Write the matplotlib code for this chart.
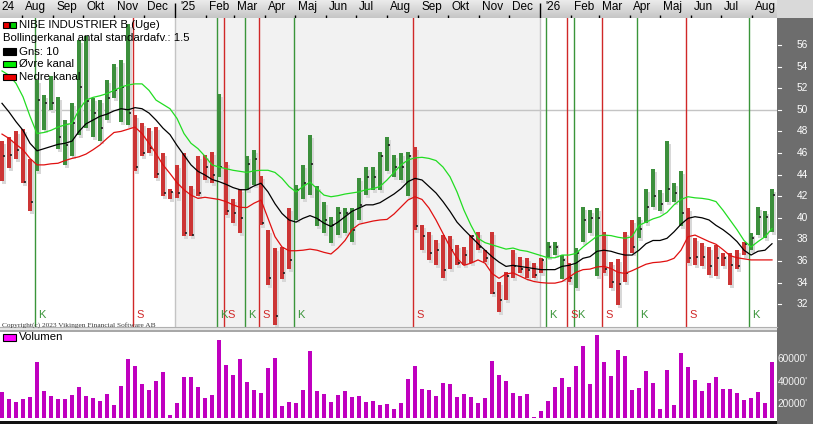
import numpy as np
import pandas as pd
import matplotlib
matplotlib.use("Agg")
import matplotlib.pyplot as plt
from matplotlib.patches import Rectangle
from matplotlib.colors import LinearSegmentedColormap
from matplotlib.transforms import blended_transform_factory as btf

# ---------------- data ----------------
first_date = "2024-07-12"   # weekly bars (Uge)
high = [47.1, 47.5, 48.0, 48.2, 45.4, 52.8, 51.4, 53.1, 51.2, 49.1,
        50.6, 56.5, 56.8, 51.1, 50.9, 52.8, 54.2, 54.6, 57.9, 49.5,
        48.8, 48.3, 48.4, 46.0, 42.7, 44.9, 46.0, 42.9, 45.7, 45.8,
        46.1, 51.5, 45.2, 41.7, 42.7, 45.7, 46.3, 43.9, 38.9, 37.2,
        37.3, 40.9, 43.0, 44.9, 47.7, 42.9, 41.5, 40.1, 41.0, 40.9,
        40.9, 43.7, 44.7, 44.7, 46.1, 47.5, 45.8, 46.0, 46.1, 46.6,
        39.3, 38.7, 37.9, 38.4, 38.3, 37.5, 37.3, 38.4, 38.7, 37.0,
        38.7, 34.1, 35.0, 37.0, 36.4, 36.3, 35.8, 36.3, 37.8, 37.8,
        36.6, 35.8, 37.2, 41.0, 40.7, 40.9, 38.7, 35.9, 36.2, 38.7,
        39.8, 40.1, 42.7, 44.5, 42.6, 47.1, 43.2, 44.3, 40.9, 38.1,
        37.7, 37.3, 37.5, 36.7, 36.7, 37.0, 37.8, 38.6, 41.0, 40.6,
        42.7]
low = [43.4, 44.6, 45.4, 43.2, 40.6, 44.3, 48.1, 50.0, 46.4, 44.9,
       45.7, 47.7, 48.3, 47.5, 47.1, 49.1, 51.1, 48.9, 48.6, 44.3,
       45.7, 46.0, 43.7, 42.0, 41.7, 41.8, 38.3, 38.3, 42.0, 43.5,
       43.2, 43.8, 40.3, 39.5, 38.6, 42.6, 43.0, 39.3, 33.8, 30.1,
       34.3, 35.3, 39.8, 41.7, 42.1, 39.2, 38.6, 37.7, 38.4, 38.6,
       37.8, 39.8, 42.1, 42.6, 42.6, 44.3, 43.8, 43.5, 42.0, 38.9,
       37.0, 36.1, 35.6, 34.4, 35.3, 35.6, 35.6, 35.8, 37.0, 35.9,
       32.9, 31.3, 32.4, 34.4, 34.9, 34.4, 34.4, 34.9, 36.4, 36.6,
       34.3, 34.1, 33.5, 37.8, 38.6, 34.6, 34.9, 33.5, 31.9, 34.1,
       36.7, 38.1, 39.5, 41.0, 40.6, 41.5, 41.5, 39.2, 35.8, 35.6,
       35.5, 34.7, 34.6, 35.5, 33.8, 35.3, 36.6, 37.0, 38.4, 38.1,
       38.7]
close = [45.7, 45.8, 46.3, 43.3, 41.5, 50.9, 50.6, 50.6, 47.5, 46.7,
         48.8, 52.1, 50.8, 49.7, 48.3, 51.1, 51.8, 52.1, 49.7, 44.7,
         46.0, 46.5, 44.1, 42.3, 42.4, 42.3, 38.6, 38.4, 42.3, 44.7,
         44.0, 44.7, 40.6, 40.4, 40.0, 45.0, 45.4, 39.5, 34.4, 30.9,
         34.9, 36.1, 42.6, 43.2, 45.0, 39.8, 39.8, 39.3, 40.4, 40.4,
         38.9, 41.2, 43.8, 43.8, 45.7, 46.7, 44.7, 44.7, 45.7, 39.2,
         38.3, 36.7, 37.0, 35.2, 37.0, 35.8, 36.6, 38.3, 37.3, 36.3,
         33.0, 32.4, 34.6, 35.5, 35.3, 35.2, 34.7, 36.1, 37.3, 37.3,
         36.1, 34.4, 36.7, 39.8, 40.0, 40.0, 35.3, 34.1, 33.9, 34.9,
         37.3, 39.0, 41.0, 42.0, 41.3, 42.7, 42.3, 40.4, 36.3, 36.4,
         36.4, 35.5, 36.3, 36.3, 35.6, 35.5, 37.6, 38.1, 40.1, 40.1,
         42.1]
ma10 = [50.6, 49.8, 48.9, 48.1, 46.9, 46.2, 46.4, 46.6, 46.8, 46.9,
        47.1, 48.0, 48.7, 49.05, 49.4, 49.6, 49.9, 50.1, 50.0, 50.2,
        50.1, 49.7, 49.05, 48.3, 47.7, 46.7, 45.8, 44.9, 44.3, 43.96,
        43.55, 43.35, 43.1, 42.8, 42.6, 42.6, 42.95, 43.2, 42.4, 41.3,
        40.4, 39.8, 39.6, 39.95, 40.2, 39.95, 39.5, 39.2, 39.6, 40.1,
        40.6, 40.9, 41.2, 41.2, 41.4, 41.8, 42.2, 42.7, 43.35, 43.65,
        43.5, 42.9, 42.3, 41.5, 40.6, 39.6, 38.9, 38.25, 37.6, 37.0,
        36.4, 35.9, 35.5, 35.6, 35.5, 35.4, 35.3, 35.2, 35.2, 35.2,
        35.5, 35.6, 35.8, 36.25, 36.4, 36.9, 37.0, 36.9, 36.7, 36.55,
        36.55, 37.0, 37.6, 37.9, 37.9, 38.1, 38.7, 39.4, 39.95, 40.1,
        40.0, 39.8, 39.3, 38.9, 38.4, 37.8, 37.0, 36.55, 36.9, 37.0,
        37.6]
upper = [53.6, 53.2, 52.45, 51.2, 49.4, 47.8, 47.9, 48.1, 48.4, 48.6,
         48.75, 50.0, 50.9, 51.15, 51.3, 51.5, 51.8, 52.1, 52.3, 52.4,
         52.4, 51.8, 50.9, 50.5, 50.1, 49.2, 47.8, 46.9, 46.4, 45.7,
         44.9, 44.7, 44.55, 44.4, 44.3, 44.2, 44.35, 44.4, 44.4, 44.2,
         43.65, 42.9, 42.4, 42.9, 43.3, 42.7, 42.1, 41.95, 42.05, 42.2,
         42.3, 42.4, 42.6, 42.7, 42.9, 43.5, 44.2, 44.9, 45.35, 45.55,
         45.6, 45.5, 45.3, 44.7, 43.8, 42.4, 40.7, 39.3, 38.1, 37.7,
         37.5, 37.3, 37.1, 37.2, 37.0, 36.9, 36.7, 36.5, 36.3, 36.3,
         36.55, 36.55, 36.7, 37.3, 37.8, 38.3, 38.4, 38.35, 38.2, 38.1,
         38.25, 39.3, 39.6, 39.9, 40.1, 40.5, 41.2, 41.7, 41.95, 41.85,
         41.8, 41.7, 41.5, 40.7, 39.8, 38.9, 37.9, 37.3, 37.8, 38.25,
         39.0]
lower = [47.75, 47.35, 46.8, 46.3, 45.5, 44.9, 44.9, 45.0, 45.05, 45.3,
         45.5, 45.65, 45.9, 46.3, 46.75, 47.35, 47.9, 48.0, 48.2, 48.4,
         47.8, 46.9, 45.95, 44.9, 44.1, 43.25, 42.6, 42.1, 41.8, 41.9,
         41.8, 41.7, 41.5, 41.2, 40.97, 40.95, 41.35, 41.65, 39.95, 38.25,
         37.3, 36.95, 36.95, 37.0, 37.1, 37.0, 36.8, 36.65, 37.2, 37.9,
         38.9, 39.4, 39.55, 39.7, 39.8, 39.85, 40.35, 41.0, 41.65, 41.95,
         41.7, 40.9, 39.8, 38.55, 37.3, 36.25, 35.6, 35.8, 36.1, 35.8,
         34.85, 34.4, 34.8, 34.9, 34.6, 34.3, 34.1, 34.0, 33.95, 33.95,
         34.1, 34.5, 34.95, 35.2, 35.25, 35.45, 35.5, 35.3, 34.95, 34.85,
         35.1, 35.4, 35.7, 35.85, 35.9, 36.0, 36.25, 37.0, 38.25, 38.4,
         38.1, 37.8, 37.55, 37.05, 36.5, 36.3, 36.2, 36.1, 36.1, 36.1,
         36.1]
volume = [31000, 24500, 22100, 24500, 26300, 57900, 31600, 27200, 24500, 24500,
          28100, 35200, 27200, 25400, 23000, 29000, 19100, 36100, 60300, 54000,
          37900, 32500, 40600, 48700, 10150, 20900, 44200, 44200, 35200, 25400,
          28100, 77300, 54900, 46000, 60300, 39700, 32500, 29900, 52200, 61200,
          18200, 21800, 20900, 32500, 67500, 31600, 29000, 21800, 28100, 31600,
          26300, 27200, 21800, 22700, 19100, 20000, 15500, 20900, 42400, 54000,
          33400, 32500, 27200, 38800, 37900, 26300, 29000, 26300, 20900, 25400,
          58500, 46000, 40600, 29900, 27200, 29000, 8360, 13700, 22700, 35200,
          43300, 35200, 54000, 71900, 37900, 81800, 57600, 45100, 68400, 63000,
          32500, 34300, 49600, 38800, 15500, 50400, 19100, 65700, 53100, 41500,
          31600, 38800, 44200, 33400, 33400, 29900, 23600, 25400, 30700, 20900,
          57600]
signal_bars = [5, 19, 31, 32, 35, 37, 42, 59, 78, 81, 82, 86, 91, 98, 107]
signal_types = ["K", "S", "K", "S", "K", "S", "K", "S", "K", "S", "K", "S", "K", "S", "K"]
price_ticks = [32, 34, 36, 38, 40, 42, 44, 46, 48, 50, 52, 54, 56]
vol_ticks = [20000, 40000, 60000]
vol_labels = ["20000'", "40000'", "60000'"]
month_names = ["Jan", "Feb", "Mar", "Apr", "Maj", "Jun", "Jul", "Aug", "Sep", "Okt", "Nov", "Dec"]
title = "NIBE INDUSTRIER B (Uge)"
boll_text = "Bollingerkanal antal standardafv.: 1.5"
ma_text = "Gns: 10"
up_text = "\u00d8vre kanal"
lo_text = "Nedre kanal"
vol_text = "Volumen"
copyright_text = "Copyright(c) 2023 Vikingen Financial Software AB"

# ---------------- styling ----------------
W, H = 813, 424
FONT = "Liberation Sans"
GREEN_BAR = "#3c8f3c"
RED_BAR = "#cc3535"
SHADOW = "#d8d8d8"
K_COL = "#3a953a"
S_COL = "#d02828"
PANEL = "#6d6d6d"

plt.rcParams["font.family"] = [FONT, "DejaVu Sans"]

fig = plt.figure(figsize=(W / 100, H / 100), dpi=100)
fig.patch.set_facecolor("white")


def rect(x0, y0, x1, y1):
    return [x0 / W, 1 - y1 / H, (x1 - x0) / W, (y1 - y0) / H]


n = len(close)
idx = np.arange(n)
dates = pd.date_range(first_date, periods=n, freq="7D")


def pos(d):
    return (pd.Timestamp(d) - dates[0]).days / 7.0


PX = 7.0  # pixels per bar
X0 = -2 / PX
X1 = (777 - 2) / PX

# right grey panel
fig.add_artist(Rectangle((777 / W, 0), 36 / W, 1 - 18 / H, transform=fig.transFigure,
                         facecolor=PANEL, edgecolor="none", zorder=-5))
# top bar right part
fig.add_artist(Rectangle((777 / W, 1 - 18 / H), 36 / W, 18 / H, transform=fig.transFigure,
                         facecolor="#d9d9d9", edgecolor="none", zorder=-5))
# separators between panels
fig.add_artist(Rectangle((0, 1 - 332 / H), 777 / W, 5 / H, transform=fig.transFigure,
                         facecolor="#e6e6e6", edgecolor="none", zorder=-5))
fig.add_artist(Rectangle((0, 1 - 331.5 / H), 777 / W, 1.6 / H, transform=fig.transFigure,
                         facecolor="#a8a8a8", edgecolor="none", zorder=-4))
fig.add_artist(Rectangle((0, 0), 777 / W, 3.5 / H, transform=fig.transFigure,
                         facecolor="#111111", edgecolor="none", zorder=-4))

# ---------------- top month bar ----------------
axt = fig.add_axes(rect(0, 0, 777, 18))
axt.set_axis_off()
grad = LinearSegmentedColormap.from_list("g", ["#ebebeb", "#c6c6c6"])
axt.imshow(np.linspace(0, 1, 32)[:, None], cmap=grad, aspect="auto",
           extent=[X0, X1, 0, 1], zorder=0)
axt.set_xlim(X0, X1)
axt.set_ylim(0, 1)
axt.text(X0 + 1.7 / PX, 0.6, "24", fontsize=8.5, va="center", ha="left")
for m in pd.date_range("2024-08-01", dates[-1], freq="MS"):
    p = pos(m)
    if m.month == 1:
        axt.vlines(p, 0, 0.85, color="black", lw=1)
        axt.text(p + 5 / PX, 0.6, "'" + str(m.year)[2:], fontsize=8.5, va="center", ha="left")
    else:
        axt.vlines(p, 0, 0.17, color="black", lw=1)
        axt.text(p + 3 / PX, 0.6, month_names[m.month - 1], fontsize=8.5, va="center", ha="left")

# ---------------- price panel ----------------
P_TOP, P_BOT = 18, 327
ax = fig.add_axes(rect(0, P_TOP, 777, P_BOT))
ylo = 56 - (P_BOT - 45) / 10.8
yhi = 56 - (P_TOP - 45) / 10.8
ax.set_xlim(X0, X1)
ax.set_ylim(ylo, yhi)
ax.set_xticks([])
ax.set_yticks([])
for s in ax.spines.values():
    s.set_visible(False)
ax.spines["bottom"].set_visible(True)
ax.spines["bottom"].set_color("#b0b0b0")

y25 = pos("2025-01-01")
y26 = pos("2026-01-01")
ax.axvspan(y25, y26, color="#f2f2f2", zorder=0, lw=0)
ax.axvline(y25, color="#c4c4c4", lw=1, zorder=0.5)
ax.axvline(y26, color="#c4c4c4", lw=1, zorder=0.5)
ax.axhline(50, color="#c4c4c4", lw=1, zorder=0.5)

# signals
state = "S"
colors = []
sig = dict(zip(signal_bars, signal_types))
for i in range(n):
    if i in sig:
        state = sig[i]
    colors.append(GREEN_BAR if state == "K" else RED_BAR)

tr_lab = btf(ax.transData, ax.transAxes)
for b, t in zip(signal_bars, signal_types):
    c = K_COL if t == "K" else S_COL
    xl = b - 2.5 / PX
    ax.axvline(xl, color=c, lw=1, zorder=1)
    ax.text(xl + 3.5 / PX, (P_BOT - 315.5) / (P_BOT - P_TOP), t, color=c, fontsize=8,
            va="center", ha="left", transform=tr_lab, zorder=6)

hi = np.array(high)
lo = np.array(low)
cl = np.array(close)
bw = 4.0 / PX
ax.bar(idx + 2 / PX, hi - lo, bottom=lo - 3 / 10.8, width=bw, color=SHADOW, lw=0, zorder=2)
ax.bar(idx, hi - lo, bottom=lo, width=bw, color=colors, lw=0, zorder=3)
ax.hlines(cl, idx + 0.1, idx + 0.42, color="#1e1e1e", lw=1.2, zorder=4)

ax.plot(idx, upper, color="#22dd22", lw=0.9, zorder=5)
ax.plot(idx, lower, color="#e01010", lw=0.9, zorder=5)
ax.plot(idx, ma10, color="black", lw=0.9, zorder=5)

# right axis labels
trp = btf(fig.transFigure, ax.transData)
for p in price_ticks:
    ax.plot([777.5 / W, 781 / W], [p, p], transform=trp, color="white", lw=0.8, clip_on=False)
    ax.text(802.5 / W, p, str(p), transform=trp, color="white", fontsize=7.3,
            ha="center", va="center", clip_on=False)

# legend
def box(x0, y0, x1, y1, fc):
    fig.add_artist(Rectangle((x0 / W, 1 - y1 / H), (x1 - x0) / W, (y1 - y0) / H,
                             transform=fig.transFigure, facecolor=fc, edgecolor="black",
                             lw=0.8, zorder=10))

LFS = 8.2
box(2.7, 22, 8.7, 27.5, "#e80000")
box(9.5, 22, 15.5, 27.5, "#00d000")
fig.text(19 / W, 1 - 25 / H, title, fontsize=LFS, va="center", ha="left", zorder=11)
fig.text(3 / W, 1 - 38.3 / H, boll_text, fontsize=LFS, va="center", ha="left", zorder=11)
box(2.7, 48.5, 15.5, 54.5, "black")
fig.text(19 / W, 1 - 51.7 / H, ma_text, fontsize=LFS, va="center", ha="left", zorder=11)
box(2.7, 61.2, 15.5, 67.2, "#00ee00")
fig.text(19 / W, 1 - 64.3 / H, up_text, fontsize=LFS, va="center", ha="left", zorder=11)
box(2.7, 74.2, 15.5, 80.2, "#ee0000")
fig.text(19 / W, 1 - 77.3 / H, lo_text, fontsize=LFS, va="center", ha="left", zorder=11)

fig.text(2 / W, 1 - 324.8 / H, copyright_text, fontsize=5.3, family="Liberation Serif",
         color="#3a3a3a", va="center", ha="left", zorder=11)

# ---------------- volume panel ----------------
V_TOP, V_BOT = 333, 418
axv = fig.add_axes(rect(0, V_TOP, 777, V_BOT))
vpp = 20000 / 22.35
vlo = 20000 - (V_BOT - 404) * vpp
vhi = 60000 + (359.3 - V_TOP) * vpp
axv.set_xlim(X0, X1)
axv.set_ylim(vlo, vhi)
axv.set_xticks([])
axv.set_yticks([])
for s in axv.spines.values():
    s.set_visible(False)
vol = np.array(volume)
axv.bar(idx, vol - vlo, bottom=vlo, width=bw, color="#bf00bf", lw=0, zorder=3)

trv = btf(fig.transFigure, axv.transData)
for v, lab in zip(vol_ticks, vol_labels):
    axv.text(777.5 / W, v, lab, transform=trv, color="#f2f2f2", fontsize=7.3,
             ha="left", va="center", clip_on=False)

box(2.7, 333.5, 16, 340.5, "#ff00ff")
fig.text(19 / W, 1 - 337.3 / H, vol_text, fontsize=LFS, va="center", ha="left", zorder=11)

fig.savefig("out.png", dpi=100, facecolor="white")
